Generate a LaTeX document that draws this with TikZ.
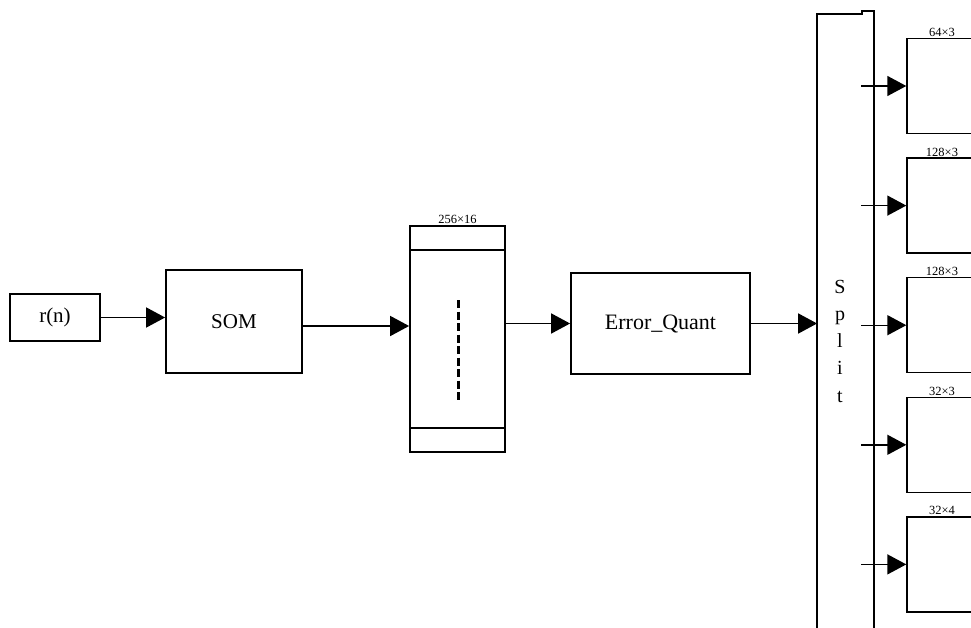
\documentclass[tikz,border=0pt]{standalone}
\usepackage{fontspec}
\setmainfont{Liberation Serif}
\usetikzlibrary{arrows.meta,positioning}

\begin{document}
\begin{tikzpicture}[x=1pt,y=-1pt,>={Triangle[length=19pt,width=20pt]},
    line width=1.8pt,
    block/.style={draw,rectangle,inner sep=0pt,font=\fontsize{21}{25}\selectfont},
    outbox/.style={draw,rectangle,inner sep=0pt,line width=1.4pt,minimum width=103pt,minimum height=95pt},
    dimlabel/.style={font=\fontsize{12.5}{14}\selectfont,inner sep=1pt,anchor=south}]

	\useasboundingbox (0,0) rectangle (971,628);

	\node[block,minimum width=90pt,minimum height=47pt] (rn) at (55,317.5) {r(n)};
	\node[block,minimum width=136pt,minimum height=103pt] (som) at (234,321.5) {SOM};
	\node[block,minimum width=95pt,minimum height=226pt] (code) at (457.5,339) {};
	\node[dimlabel] (codedim) at (code.north) {256×16};
	\node[block,minimum width=179pt,minimum height=101pt,font=\fontsize{22}{26}\selectfont] (eq) at (660.5,323.5) {Error\_Quant};

	% codebook rows
	\draw ([yshift=-25pt]code.north west) -- ([yshift=-25pt]code.north east);
	\draw ([yshift=25pt]code.south west) -- ([yshift=25pt]code.south east);
	\draw[line width=3pt,dash pattern=on 8pt off 3.5pt] (458,300) -- (458,403);

	% split bar
	\node[inner sep=0pt,minimum width=55pt,minimum height=688pt] (split) at (845.5,356) {};
	\node[inner sep=0pt,anchor=north,align=center,font=\fontsize{20}{27.25}\selectfont] (splittxt) at (840,279) {S\\p\\l\\i\\t};
	\draw[line width=1.5pt] (split.south west) |- ([xshift=45pt,yshift=-3pt]split.north west) |- (split.north east) -- (split.south east);

	\draw[->] (rn.east) -- (rn.east -| som.west);
	\draw[->] ([yshift=-4.5pt]som.east) -- ([yshift=-4.5pt]som.east -| code.west);
	\draw[->] (eq.west -| code.east) -- (eq.west);
	\draw[->] (eq.east) -- (eq.east -| split.west);

	% outputs of the split
	\foreach \dimtxt [count=\i] in {64×3,128×3,128×3,32×3,32×4} {
		\node[outbox] (out\i) at (958.5,{86+119.6*(\i-1)}) {};
		\node[dimlabel] (outdim\i) at (942,{86+119.6*(\i-1)-47.5}) {\dimtxt};
		\coordinate (tap\i) at (861,{86+119.6*(\i-1)});
		\draw[->,line width=1.4pt] (tap\i) -- (out\i.west);
	}

\end{tikzpicture}
\end{document}
